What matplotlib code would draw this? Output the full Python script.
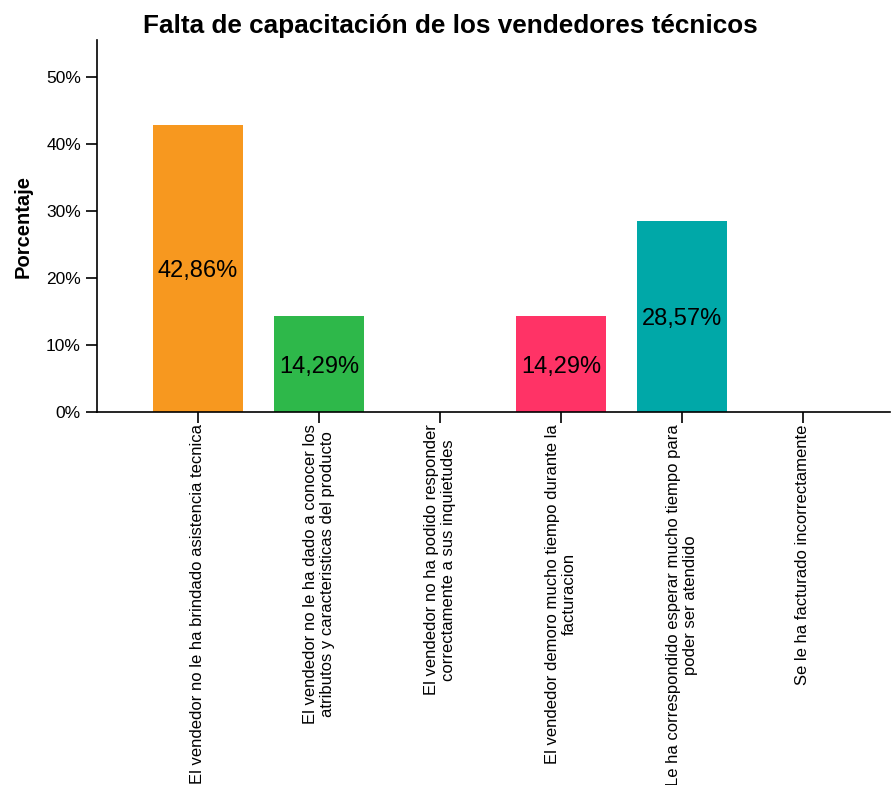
import matplotlib.pyplot as plt
import numpy as np

plt.rcParams['font.family'] = ['Liberation Sans', 'DejaVu Sans']

categories = [
    "El vendedor no le ha brindado asistencia tecnica",
    "El vendedor no le ha dado a conocer los\natributos y caracteristicas del producto",
    "El vendedor no ha podido responder\ncorrectamente a sus inquietudes",
    "El vendedor demoro mucho tiempo durante la\nfacturacion",
    "Le ha correspondido esperar mucho tiempo para\npoder ser atendido",
    "Se le ha facturado incorrectamente",
]
values = [42.86, 14.29, 0.0, 14.29, 28.57, 0.0]
colors = ['#F7981F', '#2EB84A', '#8A8A8A', '#FF3366', '#00A8A8', '#8A8A8A']
yticks = [0, 10, 20, 30, 40, 50]

fig = plt.figure(figsize=(8.92, 7.85), dpi=100)
ax = fig.add_axes([0.1087, 0.4752, 0.889, 0.4738])

x = np.arange(len(categories))
bars = ax.bar(x, values, width=0.75, color=colors)

# value labels in the middle of each bar
for xi, v in zip(x, values):
    if v > 0:
        ax.text(xi, v / 2, f"{v:.2f}%".replace('.', ','), ha='center',
                va='center_baseline', fontsize=17, color='black')

ax.set_xlim(-0.835, 5.72)
ax.set_ylim(0, 55.5)
ax.set_yticks(yticks)
ax.set_yticklabels([f"{t}%" for t in yticks], fontsize=12.5)
ax.set_xticks(x)
ax.set_xticklabels(categories, rotation=90, ha='center', va='top',
                   multialignment='center', fontsize=12)
ax.tick_params(axis='both', direction='out', length=8, width=1.2, color='black')
ax.tick_params(axis='x', pad=1)

ax.spines['top'].set_visible(False)
ax.spines['right'].set_visible(False)
ax.spines['left'].set_linewidth(1.2)
ax.spines['bottom'].set_linewidth(1.2)

ax.set_ylabel('Porcentaje', fontsize=14.5, fontweight='bold', labelpad=10)
fig.suptitle('Falta de capacitación de los vendedores técnicos', fontsize=18.8,
             fontweight='bold', x=0.505, y=0.982)

fig.savefig('out.png', dpi=100)
